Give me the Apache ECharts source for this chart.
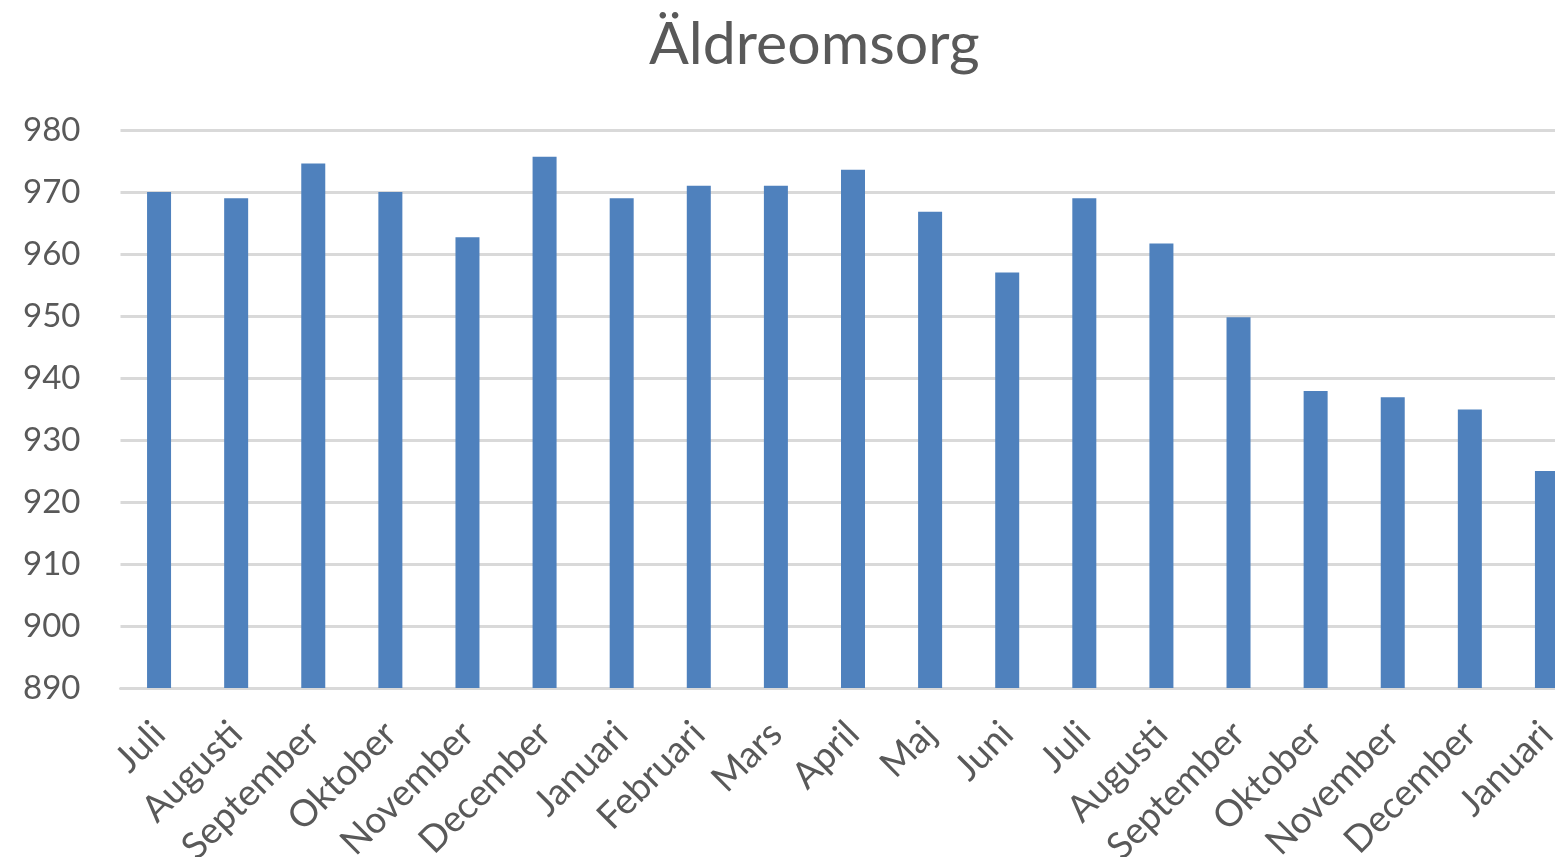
<!DOCTYPE html>
<html>
<head>
<meta charset="utf-8">
<script src="https://cdn.jsdelivr.net/npm/echarts@6/dist/echarts.min.js"></script>
<style>
html,body{margin:0;padding:0;background:#fff;}
#c{width:1555px;height:857px;}
</style>
</head>
<body>
<div id="c"></div>
<script>
const title = 'Äldreomsorg';
const categories = ['Juli','Augusti','September','Oktober','November','December','Januari','Februari','Mars','April','Maj','Juni','Juli','Augusti','September','Oktober','November','December','Januari'];
const values = [970, 969, 974.6, 970, 962.7, 975.7, 969, 971, 971, 973.6, 966.8, 957, 969, 961.7, 949.8, 937.9, 936.9, 934.9, 925];
const yMin = 890, yMax = 980, yStep = 10;

const chart = echarts.init(document.getElementById('c'));
chart.setOption({
  animation: false,
  backgroundColor: '#ffffff',
  title: {
    text: title,
    left: 644,
    top: 10,
    textStyle: {fontFamily: 'Lato', fontSize: 59, fontWeight: 'normal', color: '#595959'}
  },
  grid: {left: 120.5, top: 130, width: 1465, height: 558, containLabel: false, outerBoundsMode: 'none'},
  xAxis: {
    type: 'category',
    data: categories,
    axisLine: {show: true, lineStyle: {color: '#d9d9d9', width: 3}},
    axisTick: {show: false},
    axisLabel: {interval: 0, rotate: 45, margin: 40, fontFamily: 'Lato', fontSize: 37, color: '#595959'}
  },
  yAxis: {
    type: 'value',
    min: yMin, max: yMax, interval: yStep,
    axisLine: {show: false},
    axisTick: {show: false},
    splitLine: {show: true, lineStyle: {color: '#d9d9d9', width: 3}},
    axisLabel: {margin: 40, fontFamily: 'Lato', fontSize: 33, color: '#595959'}
  },
  series: [{
    type: 'bar',
    data: values,
    barWidth: 24,
    itemStyle: {color: '#4f81bd'}
  }]
});
</script>
</body>
</html>
